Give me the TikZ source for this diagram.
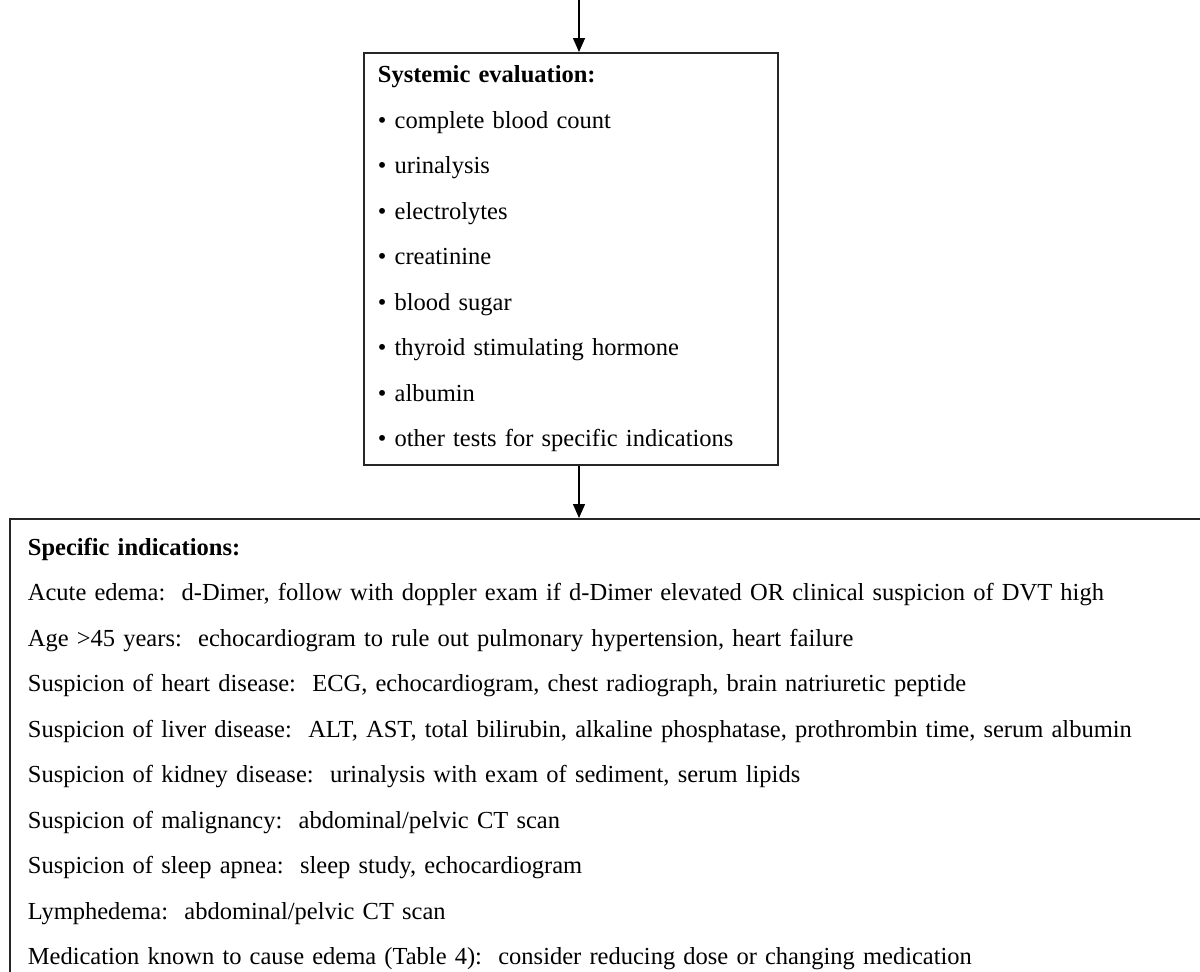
\documentclass[tikz,border=0pt]{standalone}
\usepackage{fontspec}
\setmainfont{Liberation Serif}
\usetikzlibrary{arrows.meta,positioning}
\tikzset{
    every node/.append style={
        font=\fontsize{12.25}{22.75}\selectfont,
    },
    box/.style={
        draw=black!85,
        line width=0.9pt,
        align=left,
        anchor=north west,
    },
    flow/.style={
        draw,
        line width=0.7pt,
        -{Triangle[length=7pt,width=6pt]},
    }
}
\begin{document}
\begin{tikzpicture}[x=0.5pt,y=-0.5pt]
    \useasboundingbox (0,0) rectangle (1200,971);
    \clip (0,0) rectangle (1200,971);

    \coordinate (in) at (579,0);

    \node[box, inner xsep=7pt, text width=193pt, minimum height=206pt] (sysbox) at (363,52) {%
      \textbf{Systemic evaluation:}\\
      \textbullet\ complete blood count\\
      \textbullet\ urinalysis\\
      \textbullet\ electrolytes\\
      \textbullet\ creatinine\\
      \textbullet\ blood sugar\\
      \textbullet\ thyroid stimulating hormone\\
      \textbullet\ albumin\\
      \textbullet\ other tests for specific indications};

    \node[box, inner xsep=9pt, inner ysep=9.5pt, text width=610pt] (spec) at (9,518) {%
      \textbf{Specific indications:}\\
      Acute edema:\ \ d-Dimer, follow with doppler exam if d-Dimer elevated OR clinical suspicion of DVT high\\
      Age >45 years:\ \ echocardiogram to rule out pulmonary hypertension, heart failure\\
      Suspicion of heart disease:\ \ ECG, echocardiogram, chest radiograph, brain natriuretic peptide\\
      Suspicion of liver disease:\ \ ALT, AST, total bilirubin, alkaline phosphatase, prothrombin time, serum albumin\\
      Suspicion of kidney disease:\ \ urinalysis with exam of sediment, serum lipids\\
      Suspicion of malignancy:\ \ abdominal/pelvic CT scan\\
      Suspicion of sleep apnea:\ \ sleep study, echocardiogram\\
      Lymphedema:\ \ abdominal/pelvic CT scan\\
      Medication known to cause edema (Table 4):\ \ consider reducing dose or changing medication};

    \draw[flow] (in) -- (in |- sysbox.north);
    \draw[flow] (sysbox.south -| in) -- (in |- spec.north);
\end{tikzpicture}
\end{document}
